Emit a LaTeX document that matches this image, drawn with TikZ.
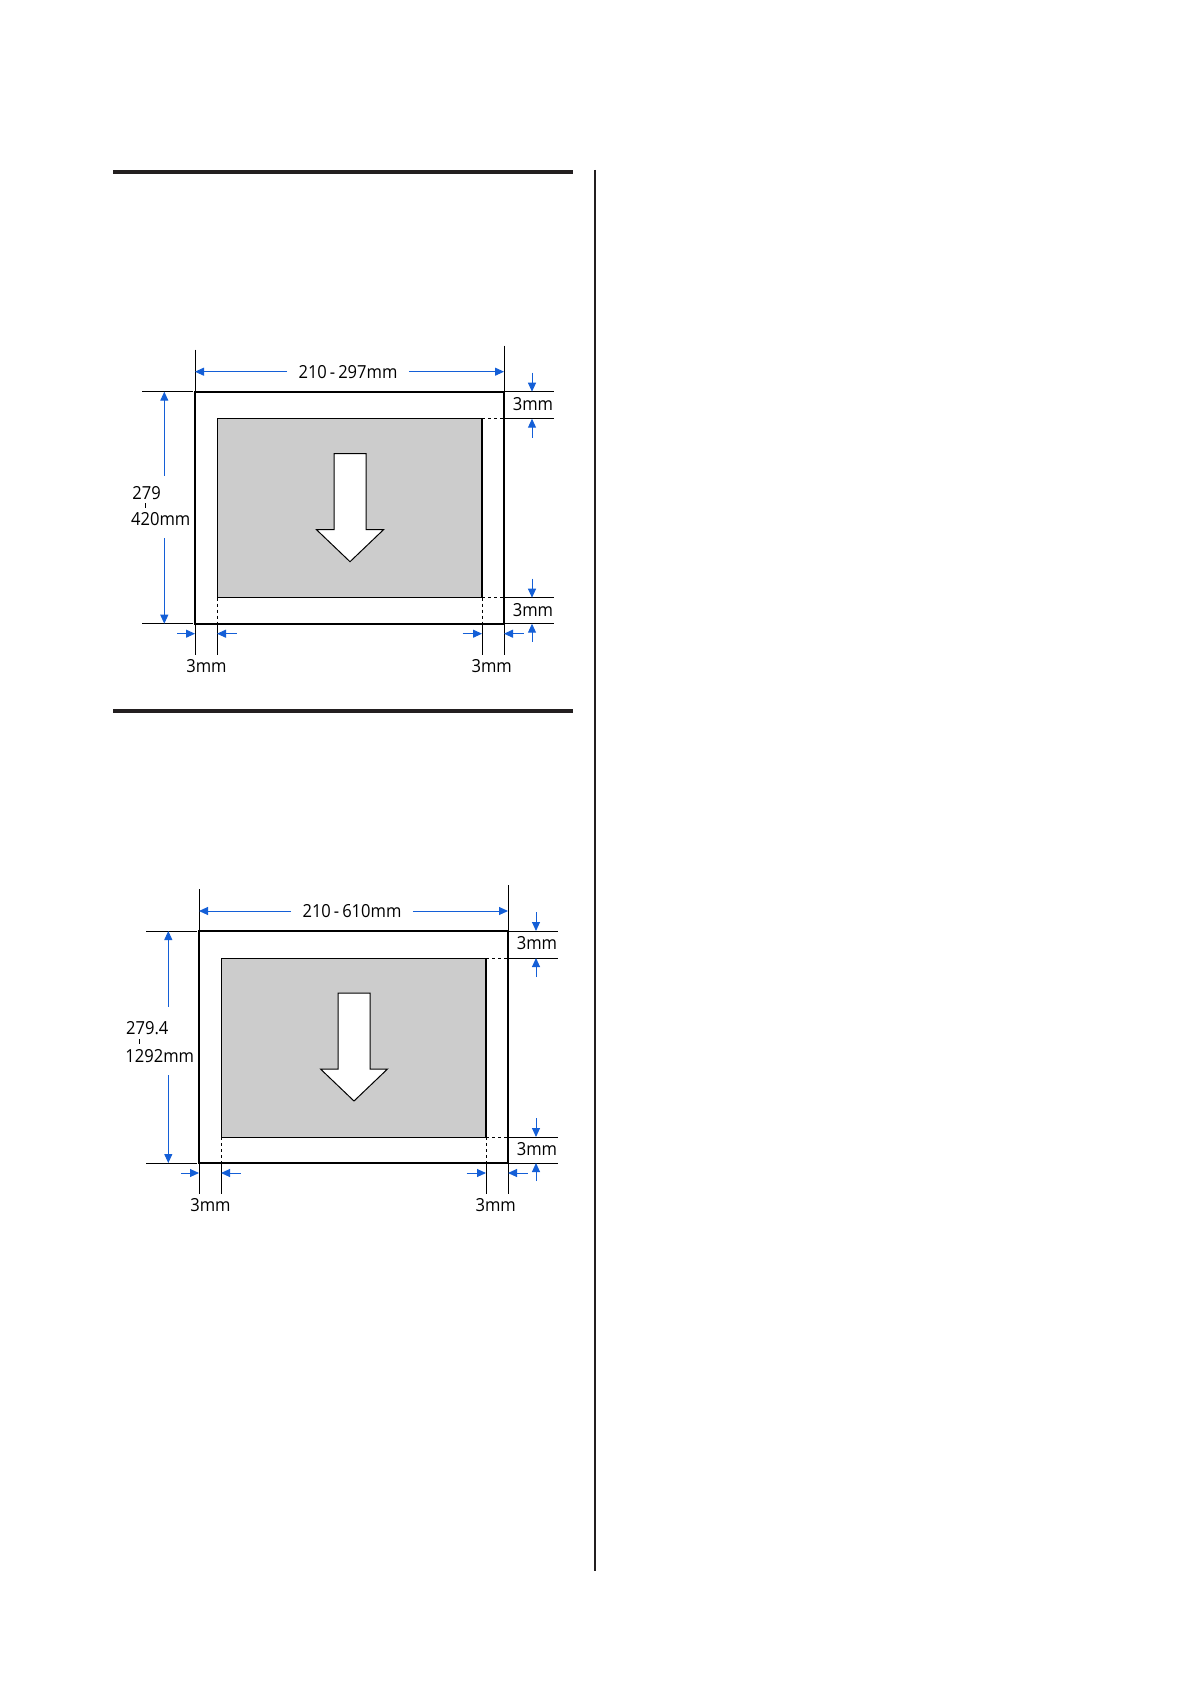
\documentclass[tikz,border=0pt]{standalone}
\usepackage{fontspec}
\setmainfont{Open Sans}[FakeStretch=0.92]
\usetikzlibrary{arrows.meta}
\definecolor{dimblue}{RGB}{20,95,215}
\definecolor{rulegray}{RGB}{35,31,32}
\definecolor{papergray}{RGB}{204,204,204}
\tikzset{
  dimline/.style={draw=dimblue, line width=0.5pt, -{Triangle[length=4.5pt,width=4pt]}},
  extline/.style={draw=black, line width=0.5pt},
  dashext/.style={draw=black, line width=0.5pt, dash pattern=on 1.5pt off 1.5pt},
  papbox/.style={draw=black, line width=1pt},
  lbl/.style={font=\fontsize{9}{11}\selectfont, inner sep=0pt, text=black},
  sectionrule/.style={draw=rulegray, line width=2pt},
}
% #1 prefix, #2 width text, #3,#4 origin, #5 upper gap end, #6 lower gap start
\newcommand\paperfig[6]{%
  \begin{scope}[shift={(#3,#4)}]
    % sheet and printable area
    \draw[papbox] (0,0) rectangle (309,232);
    \filldraw[fill=papergray, draw=black, line width=0.5pt] (22,27) rectangle (287,206);
    \draw[line width=1pt] (287,27) -- (287,206);
    % feed direction arrow
    \filldraw[fill=white, draw=black, line width=0.5pt]
      (139,62) -- (171,62) -- (171,138) -- (188.5,138) -- (155,170) -- (121.5,138) -- (139,138) -- cycle;
    % extension lines
    \draw[extline] (0,-42) -- (0,0);
    \draw[extline] (309,-46) -- (309,0);
    \draw[extline] (-53,0) -- (-2,0);
    \draw[extline] (-53,232) -- (-2,232);
    \draw[extline] (309,0) -- (359,0);
    \draw[dashext] (287,27) -- (309,27);
    \draw[extline] (309,27) -- (359,27);
    \draw[dashext] (287,206) -- (309,206);
    \draw[extline] (309,206) -- (359,206);
    \draw[extline] (309,232) -- (359,232);
    \draw[extline] (0,232) -- (0,263);
    \draw[dashext] (22,206) -- (22,232);
    \draw[extline] (22,232) -- (22,263);
    \draw[dashext] (287,206) -- (287,232);
    \draw[extline] (287,232) -- (287,263);
    \draw[extline] (309,232) -- (309,263);
    % width dimension
    \node[lbl, inner xsep=5.5pt] (#1w) at (153,-20) {#2};
    \coordinate (#1wl) at (0,-20);
    \coordinate (#1wr) at (309,-20);
    \draw[dimline] (#1w) -- (#1wl);
    \draw[dimline] (#1w) -- (#1wr);
    % height dimension
    \coordinate (#1ht) at (-30.7,0);
    \coordinate (#1hb) at (-30.7,232);
    \coordinate (#1hg) at (-30.7,#5);
    \coordinate (#1hh) at (-30.7,#6);
    \draw[dimline] (#1hg) -- (#1ht);
    \draw[dimline] (#1hh) -- (#1hb);
    % right margins
    \coordinate (#1ra) at (337,0);
    \coordinate (#1rb) at (337,27);
    \coordinate (#1rc) at (337,206);
    \coordinate (#1rd) at (337,232);
    \draw[dimline] (337,-19) -- (#1ra);
    \draw[dimline] (337,46) -- (#1rb);
    \draw[dimline] (337,187) -- (#1rc);
    \draw[dimline] (337,250) -- (#1rd);
    \node[lbl] (#1t1) at (338,12.5) {3mm};
    \node[lbl] (#1t2) at (338,218) {3mm};
    % bottom margins
    \coordinate (#1ba) at (0,242);
    \coordinate (#1bb) at (22,242);
    \coordinate (#1bc) at (287,242);
    \coordinate (#1bd) at (309,242);
    \draw[dimline] (-18,242) -- (#1ba);
    \draw[dimline] (41.7,242) -- (#1bb);
    \draw[dimline] (267.7,242) -- (#1bc);
    \draw[dimline] (328.5,242) -- (#1bd);
    \node[lbl] (#1b1) at (11.5,274) {3mm};
    \node[lbl] (#1b2) at (296.7,274) {3mm};
  \end{scope}%
}
\begin{document}
\begin{tikzpicture}[x=0.5pt, y=-0.5pt]
  \useasboundingbox (0,0) rectangle (1190,1684);
  % section rules and column divider
  \draw[sectionrule] (113,172) -- (573,172);
  \draw[sectionrule] (113,711) -- (573,711);
  \draw[draw=rulegray, line width=0.65pt] (595,170) -- (595,1571);
  % first figure
  \paperfig{a}{210\,-\,297mm}{195}{391.7}{84}{146.3}
  \node[lbl, anchor=west] (ah1) at (132,493) {279};
  \node[lbl, anchor=west] (ah2) at (130.7,519) {420mm};
  \draw[black, line width=0.5pt] (145.5,503) -- (145.5,507.5);
  % second figure
  \paperfig{b}{210\,-\,610mm}{199}{931}{75.7}{144}
  \node[lbl, anchor=west] (bh1) at (125.7,1027.7) {279.4};
  \node[lbl, anchor=west] (bh2) at (125,1056) {1292mm};
  \draw[black, line width=0.5pt] (139,1039) -- (139,1043.5);
\end{tikzpicture}
\end{document}
